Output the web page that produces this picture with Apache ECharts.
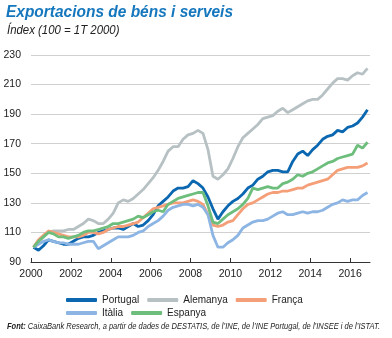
<!DOCTYPE html>
<html>
<head>
<meta charset="utf-8">
<script src="https://cdn.jsdelivr.net/npm/echarts@6/dist/echarts.min.js"></script>
<style>
html,body{margin:0;padding:0;background:#fff;}
#chart{width:392px;height:338px;}
</style>
</head>
<body>
<div id="chart"></div>
<script>
// Quarterly data, 2000T1 .. 2016T4 (index 100 = 1T 2000)
const quarters = [];
for (let y = 2000; y <= 2016; y++) for (let q = 1; q <= 4; q++) quarters.push(y + 'T' + q);

const portugal = [100,98,101,105,104,103,102,102,104,106,107,107,108,110,111,112,113,113,112,114,
  116,114,115,118,122,128,131,134,138,140,140,141,145,143,140,134,126,119,124,128,
  131,133,136,140,142,146,148,151,152,152,151,151,158,163,165,162,166,169,173,175,
  176,179,178,181,182,184,188,193];
const alemanya = [100,104,107,110,111,111,111,112,112,114,116,119,118,116,116,119,123,130,132,131,
  133,136,139,143,147,152,158,165,168,168,173,176,177,179,177,166,148,146,149,153,
  160,168,174,177,180,183,187,188,189,192,194,191,193,195,197,199,200,200,203,207,
  211,214,214,213,216,218,217,221];
const franca = [100,105,108,111,110,109,108,107,107,107,108,110,110,109,110,112,113,114,114,115,
  116,117,120,123,126,127,128,129,130,130,130,131,132,131,129,122,115,114,115,117,
  118,122,126,129,130,132,134,136,137,137,138,138,139,140,140,142,143,144,145,146,
  149,152,153,154,154,154,155,157];
const italia = [100,102,104,105,104,103,103,102,102,102,103,104,104,99,101,103,105,107,107,107,
  108,110,111,114,116,118,121,125,127,128,129,129,128,129,127,122,108,100,100,103,
  105,108,113,115,117,118,118,119,121,123,124,122,122,123,124,123,124,124,125,127,
  129,130,132,131,132,132,135,137];
const espanya = [100,104,107,110,109,107,107,106,107,108,110,111,111,112,113,114,116,116,117,118,
  119,121,120,122,124,125,124,129,131,133,134,135,136,137,137,128,117,116,119,122,
  124,126,129,133,140,139,140,141,140,140,143,144,146,149,148,150,151,153,155,157,
  158,160,161,162,163,169,167,171];

const seriesNames = ['Portugal','Alemanya','França','Itàlia','Espanya'];
const seriesValues = [portugal, alemanya, franca, italia, espanya];
const colors = ['#0a67b0','#b7c1c4','#f59f78','#8db5e4','#6dbe7c'];
const xTicks = [2000,2002,2004,2006,2008,2010,2012,2014,2016];

const titleText = 'Exportacions de béns i serveis';
const subtitleText = 'Índex (100 = 1T 2000)';
const sourceLabel = 'Font:';
const sourceText = ' CaixaBank Research, a partir de dades de DESTATIS, de l’INE, de l’INE Portugal, de l’INSEE i de l’ISTAT.';

function qToX(label){
  const y = parseInt(label.slice(0,4),10), q = parseInt(label.slice(5),10);
  return y + (q - 1) / 4 + 0.125;
}

const chart = echarts.init(document.getElementById('chart'), null, {renderer:'canvas'});
const FONT = 'Liberation Sans, Arial, sans-serif';
const option = {
  animation: false,
  color: colors,
  graphic: [
    {type:'text', x:6, y:4, scaleX:0.91,
     style:{text:titleText, fontFamily:FONT, fontSize:17, fontWeight:'bold', fontStyle:'italic', fill:'#1577bd'}},
    {type:'text', x:7, y:25, scaleX:0.95,
     style:{text:subtitleText, fontFamily:FONT, fontSize:12, fontStyle:'italic', fill:'#222'}},
    {type:'text', x:7, y:322, scaleX:0.835,
     style:{text:'{b|' + sourceLabel + '}' + sourceText, fontFamily:FONT, fontSize:9, fontStyle:'italic', fill:'#222',
       rich:{b:{fontFamily:FONT, fontSize:9, fontWeight:'bold', fontStyle:'italic', fill:'#222'}}}}
  ],
  grid: {left:31, right:22, top:55, bottom:76, containLabel:false},
  legend: [
    {data:['Portugal','Alemanya','França'], left:61, top:290, icon:'roundRect', itemWidth:31, itemHeight:4,
     itemGap:8, textStyle:{fontFamily:FONT, fontSize:10, color:'#222', width:48}},
    {data:['Itàlia','Espanya'], left:61, top:303, icon:'roundRect', itemWidth:31, itemHeight:4,
     itemGap:8, textStyle:{fontFamily:FONT, fontSize:10, color:'#222', width:48}}
  ],
  xAxis: {
    type:'value', min:2000, max:2017, interval:1,
    axisLine:{show:true, lineStyle:{color:'#333', width:1}},
    axisTick:{show:true, inside:true, length:4, customValues:xTicks, lineStyle:{color:'#333'}},
    axisLabel:{customValues:xTicks, formatter:(v)=>String(v), fontFamily:FONT, fontSize:10.5, color:'#222', margin:7},
    splitLine:{show:false}
  },
  yAxis: {
    type:'value', min:90, max:230, interval:20,
    axisLine:{show:false}, axisTick:{show:false},
    axisLabel:{fontFamily:FONT, fontSize:10.5, color:'#222', margin:10},
    splitLine:{show:true, lineStyle:{color:'#d0d0d0', width:1}}
  },
  series: seriesNames.map((n, k) => ({
    name:n, type:'line', symbol:'none', smooth:false,
    lineStyle:{width:2.8, color:colors[k]}, itemStyle:{color:colors[k]},
    data: quarters.map((q, i) => [qToX(q), seriesValues[k][i]])
  }))
};
chart.setOption(option);
</script>
</body>
</html>
